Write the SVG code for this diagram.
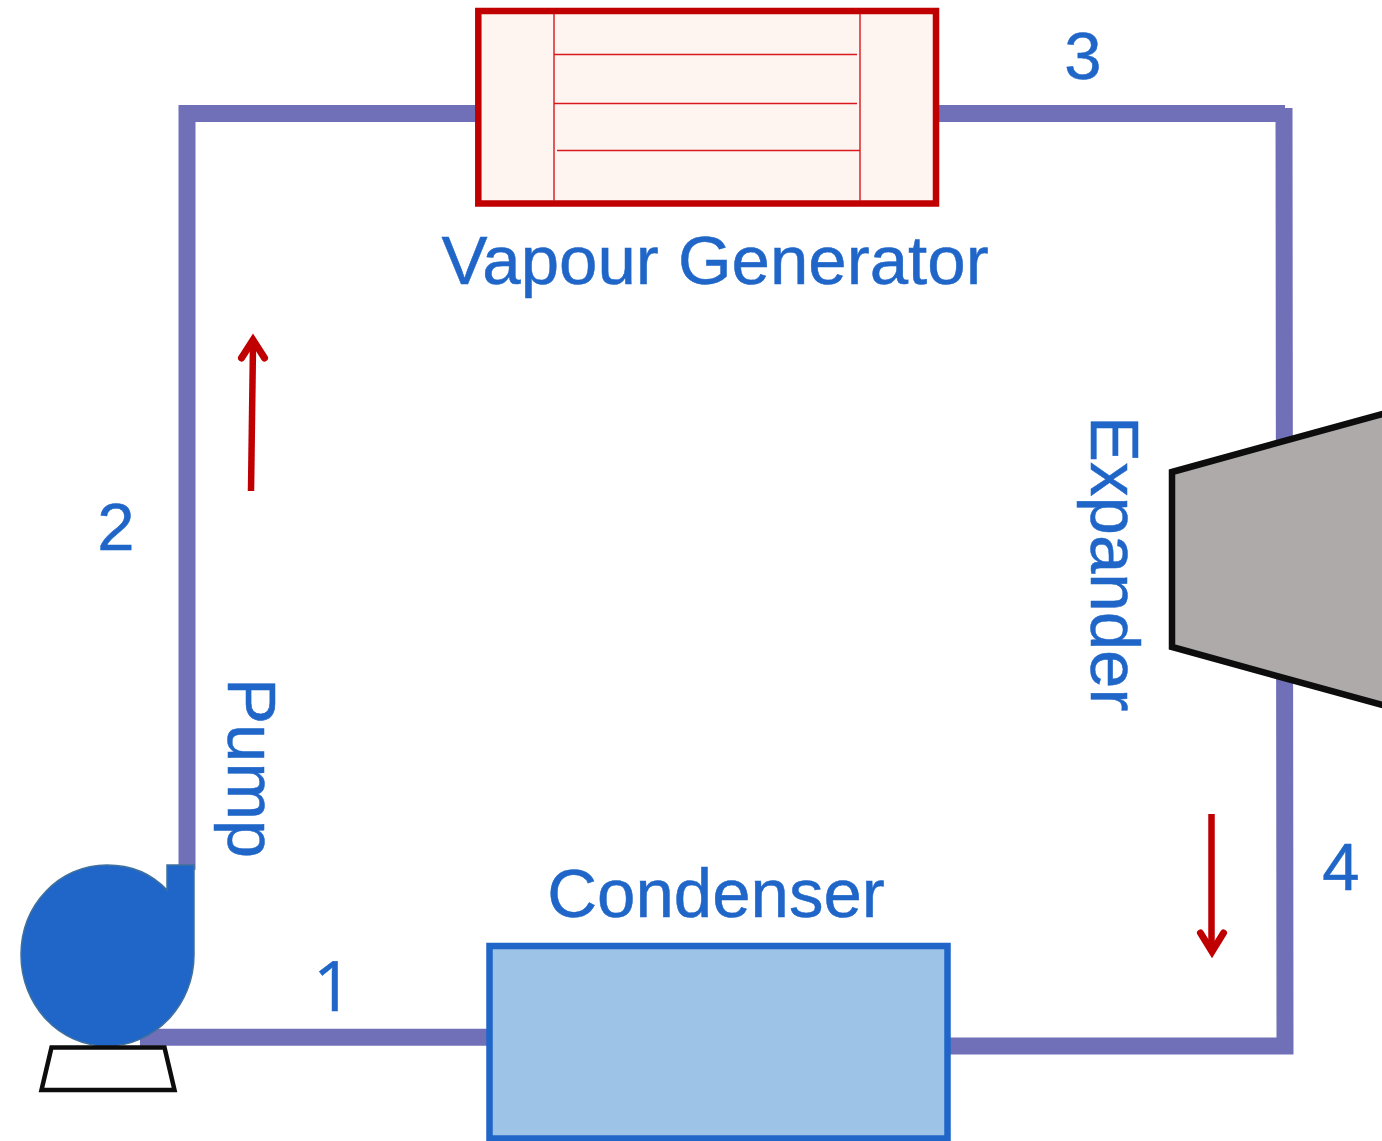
<svg xmlns="http://www.w3.org/2000/svg" width="1382" height="1141" viewBox="0 0 1382 1141">
<style>
.lb{font-family:"Liberation Sans",Arial,sans-serif;fill:#1f66c8;font-size:69px;stroke:#1f66c8;stroke-width:.5}
.num{font-size:67px;text-anchor:middle}
.one{font-family:"Open Sans","Liberation Sans",sans-serif;font-size:70px}
.pipe{fill:none;stroke:#7070b8;stroke-width:17}
.thin{stroke:#d8181c;stroke-width:1.400;fill:none}
.stem{stroke:#c00000;stroke-width:6.500;fill:none}
.head{stroke:#c00000;stroke-width:7;fill:none;stroke-linecap:round;stroke-miterlimit:10}
</style>
<rect width="1382" height="1141" fill="#fff"/>
<g id="connectors">
<path class="pipe" d="M187 870V113.500H478"/>
<path class="pipe" d="M937 113.500H1285"/>
<path class="pipe" d="M1284 108L1285 1046H948"/>
<path class="pipe" d="M140 1037.300H490"/>
<path class="stem" d="M251 491L253 345"/>
<path class="head" d="M241.500 358L253 340L264.500 358"/>
<path class="stem" d="M1211.500 814V948"/>
<path class="head" d="M1200.500 933L1212 951.500L1223.500 933"/>
</g>
<g id="vapour-generator">
<rect x="478.300" y="11" width="457.700" height="192.500" fill="#fff5f0" stroke="#c00000" stroke-width="6.500"/>
<path class="thin" d="M554 14V201M860 14V201M554 54.500H857M554 103.500H857M557 150.500H860"/>
<text class="lb" x="715" y="284" text-anchor="middle">Vapour Generator</text>
</g>
<g id="expander">
<path d="M1172 472L1386 413V706L1172 647Z" fill="#aeaaaa" stroke="#0d0d0d" stroke-width="6.500"/>
<text class="lb" transform="translate(1091 416) rotate(90)">Expander</text>
</g>
<g id="condenser">
<rect x="489.500" y="946" width="458" height="192.500" fill="#9dc3e6" stroke="#1f66c8" stroke-width="6.500"/>
<text class="lb" x="716" y="917" text-anchor="middle">Condenser</text>
</g>
<g id="pump">
<path d="M194 865V955C194 1005 155 1046 107 1046C59 1046 21 1005 21 955C21 905 59 865 107 865C131 865 152 874 167 890V865Z" fill="#1f66c8" stroke="#41719c" stroke-width="1.500"/>
<path d="M51.500 1047.500H164.500L174.500 1090H41.500Z" fill="#fff" stroke="#0d0d0d" stroke-width="4.500"/>
<text class="lb" transform="translate(228 678) rotate(90)">Pump</text>
</g>
<g id="state-labels">
<text class="lb num one" x="333" y="1011">1</text>
<text class="lb num" x="116" y="550">2</text>
<text class="lb num" x="1083" y="79">3</text>
<text class="lb num" x="1341" y="890">4</text>
</g>
</svg>
